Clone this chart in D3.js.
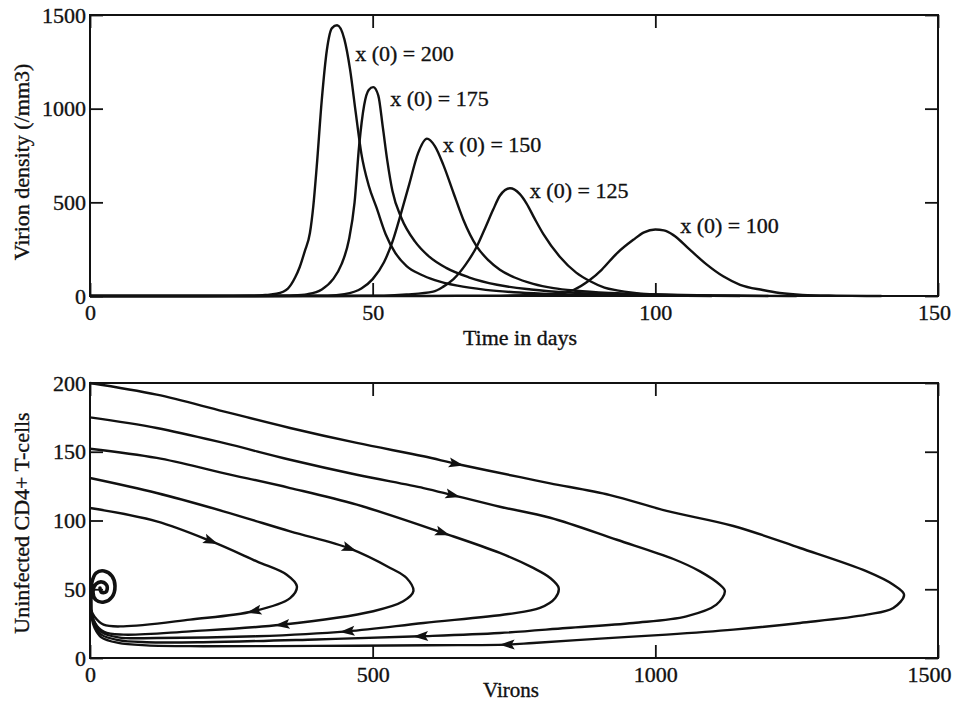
<!DOCTYPE html>
<html>
<head>
<meta charset="utf-8">
<script src="https://cdn.jsdelivr.net/npm/d3@7"></script>
<style>
  body { margin: 0; background: #fff; }
  text { font-family: "Liberation Serif", "Times New Roman", serif; fill: #111; stroke: #111; stroke-width: 0.35px; }
</style>
</head>
<body>
<svg id="chart"></svg>
<script>
// virion density curves, [day, virions/mm3], one per starting T-cell count
var curve200 = [[0,0],[20,0],[28,1],[31,5],[33,12],[35,40],[36.3,100],[37.1,155],[38,240],[38.9,336],[39.5,480],[40.1,689],[41,1047],[41.9,1313],[42.8,1430],[43.7,1445],[45,1370],[46,1210],[47,980],[48,760],[49.3,590],[50.7,470],[52.3,330],[54,230],[56,160],[58.5,115],[61,85],[65,55],[70,33],[75,20],[80,12],[90,5],[100,2],[110,0]];
var curve175 = [[0,0],[25,0],[33,1],[36,3],[38.5,10],[41,35],[43,90],[44.5,170],[45.8,300],[46.8,500],[47.6,800],[48.5,1020],[49.3,1100],[50.1,1115],[51,1070],[51.8,900],[52.6,720],[53.5,560],[55.1,415],[57.5,290],[60,210],[63,150],[67,100],[72,60],[78,35],[85,18],[95,8],[105,3],[115,0]];
var curve150 = [[0,0],[30,0],[38,1],[42,2],[45,10],[48,40],[50,90],[52,180],[53.5,290],[55,440],[56.5,600],[58,760],[59.6,840],[61,800],[62.5,700],[64.3,550],[66,410],[68.4,265],[70.5,190],[72.5,140],[75,100],[78.4,65],[82,42],[86,28],[92,16],[100,8],[110,3],[120,0]];
var curve125 = [[0,0],[40,0],[48,1],[52,2],[56,8],[60.7,23],[62.5,50],[64.3,90],[66.5,170],[68.4,263],[70,370],[71.3,460],[72.5,535],[74.3,575],[76,545],[77.2,495],[78.7,410],[80.2,330],[83.1,210],[86,125],[88.4,80],[91,45],[93.2,30],[99,10],[110,2],[125,0]];
var curve100 = [[0,0],[55,0],[65,1],[72,2],[78,5],[83,12],[85.5,32],[88.4,85],[90.5,140],[93.2,228],[96.1,300],[98,340],[100,355],[101.5,350],[103.2,325],[106,250],[109,170],[112,105],[115,60],[119,32],[122,16],[126,6],[132,2],[140,0]];
var curveNames = ["x (0) = 200","x (0) = 175","x (0) = 150","x (0) = 125","x (0) = 100"];
var labelPos = [[46.9,1255],[53.1,1014],[62.4,769],[77.8,523],[104.4,336]];

// phase plane trajectories, [virions, uninfected T-cells]
var traj200 = [[0,200],[118,191.5],[236,179.4],[354,167.3],[472,156.4],[590,146.7],[649,141.1],[761,131.5],[814,127],[920,118.5],[1020,107],[1138,96],[1256,80],[1374,63],[1421,53.3],[1440,46],[1421,36.4],[1374,31.5],[1256,25.5],[1138,20.6],[1020,17],[902,14.1],[784,10.9],[737,9.7],[600,9.3],[400,8.8],[200,8.6],[100,9.2],[50,11],[20,15],[8,22],[3,29],[1.8,34.9]];
var traj175 = [[0,175],[118,167.3],[236,156.4],[354,144.2],[472,133.3],[590,123.6],[643,118.3],[725,110],[814,102],[932,86],[1032,72],[1079,63],[1114,53.3],[1123,48.5],[1108,38.8],[1055,30.3],[961,25.5],[843,21.8],[725,18.2],[584,15.8],[400,13.5],[200,11.5],[100,11.5],[50,13],[20,17],[8,24],[3,31],[1.8,34.9]];
var traj150 = [[0,152.2],[118,145.5],[236,134.5],[354,123.6],[472,111.5],[625,90.9],[725,76.4],[784,65.5],[814,58.2],[829,50.9],[823,43.6],[796,36.4],[740,32],[590,25.5],[454,19.4],[295,15.8],[118,14.5],[50,15],[20,19],[6,28],[1.8,34.9]];
var traj125 = [[0,130.9],[118,120],[236,106.7],[354,92.1],[460,79.5],[531,65.5],[560,58.2],[572,48.5],[554,41.2],[501,34],[339,24.2],[177,19.4],[59,17],[25,19],[8,26],[1.8,34.9]];
var traj100 = [[0,109.1],[118,99.4],[215,84.8],[295,70.3],[348,60.6],[366,52.1],[354,43.6],[289,34],[177,27.9],[59,23],[24,24.2],[8,30],[1.8,34.9]];
var spiral = [[1.8,34.9],[1.8,45.8],[3.5,55.3],[10.6,61.8],[24.8,63.3],[38.9,59.6],[44.2,52.4],[38.9,44.4],[24.8,40.7],[10.6,42.2],[5.3,48],[10.6,53.8],[21.2,55.3],[30.1,52.4],[28.3,48],[19.5,48],[17.7,50.9]];
// arrow heads: [trajectory index, virions, T-cells]
var arrows = [[0,649,141.1],[1,643,118.3],[2,625,90.9],[3,460,79.5],[4,215,84.8],
              [0,737,9.7],[1,584,15.8],[2,454,19.4],[3,339,24.2],[4,289,34]];

var timeTicks = [0,50,100,150];
var virionTicks = [0,500,1000,1500];
var cellTicks = [0,50,100,150,200];

var width = 954, height = 702;
var svg = d3.select('#chart').attr('width', width).attr('height', height);

function frame(g, x, y, xt, yt, lastShift) {
    var tick = 13;
    var fmt = d3.format('d');
    g.append('g').attr('transform', 'translate(0,' + y.range()[0] + ')')
        .call(d3.axisBottom(x).tickValues(xt).tickFormat(fmt).tickSizeInner(-tick).tickSizeOuter(0).tickPadding(8))
        .call(function (a) {
            a.select('.domain').remove();
            a.selectAll('.tick text').filter(function (d, i) { return i === xt.length - 1; })
                .attr('dx', lastShift);
        });
    g.append('g').attr('transform', 'translate(0,' + y.range()[1] + ')')
        .call(d3.axisTop(x).tickValues(xt).tickSizeInner(-tick).tickSizeOuter(0).tickFormat(''))
        .call(function (a) { a.select('.domain').remove(); });
    g.append('g').attr('transform', 'translate(' + x.range()[0] + ',0)')
        .call(d3.axisLeft(y).tickValues(yt).tickFormat(fmt).tickSizeInner(-tick).tickSizeOuter(0).tickPadding(4))
        .call(function (a) { a.select('.domain').remove(); });
    g.append('g').attr('transform', 'translate(' + x.range()[1] + ',0)')
        .call(d3.axisRight(y).tickValues(yt).tickSizeInner(-tick).tickSizeOuter(0).tickFormat(''))
        .call(function (a) { a.select('.domain').remove(); });
    g.selectAll('.tick line').attr('stroke', '#111').attr('stroke-width', 1.8);
    g.selectAll('.tick text').attr('font-size', 22).attr('fill', '#111')
        .style('font-family', '"Liberation Serif", serif');
    g.append('rect')
        .attr('x', x.range()[0]).attr('y', y.range()[1])
        .attr('width', x.range()[1] - x.range()[0]).attr('height', y.range()[0] - y.range()[1])
        .attr('fill', 'none').attr('stroke', '#111').attr('stroke-width', 2);
}

// ---- top panel ----
var xT = d3.scaleLinear().domain([0, 150]).range([90, 938]);
var yT = d3.scaleLinear().domain([0, 1500]).range([296, 15]);
var topG = svg.append('g');
var lineT = d3.line().x(function (d) { return xT(d[0]); }).y(function (d) { return yT(d[1]); })
    .curve(d3.curveMonotoneX);
[curve200, curve175, curve150, curve125, curve100].forEach(function (c) {
    topG.append('path').attr('d', lineT(c)).attr('fill', 'none')
        .attr('stroke', '#111').attr('stroke-width', 2.4).attr('stroke-linejoin', 'round');
});
frame(topG, xT, yT, timeTicks, virionTicks, -4);
curveNames.forEach(function (n, i) {
    topG.append('text').attr('x', xT(labelPos[i][0])).attr('y', yT(labelPos[i][1]))
        .attr('font-size', 22).text(n);
});
topG.append('text').attr('x', 520).attr('y', 345).attr('text-anchor', 'middle')
    .attr('font-size', 22).text('Time in days');
topG.append('text').attr('transform', 'translate(29,162) rotate(-90)').attr('text-anchor', 'middle')
    .attr('font-size', 22).text('Virion density (/mm3)');

// ---- bottom panel ----
var xB = d3.scaleLinear().domain([0, 1500]).range([90, 938]);
var yB = d3.scaleLinear().domain([0, 200]).range([658, 383]);
var botG = svg.append('g');
var lineB = d3.line().x(function (d) { return xB(d[0]); }).y(function (d) { return yB(d[1]); })
    .curve(d3.curveCatmullRom.alpha(0.5));
var trajs = [traj200, traj175, traj150, traj125, traj100];
trajs.forEach(function (c) {
    botG.append('path').attr('d', lineB(c)).attr('fill', 'none')
        .attr('stroke', '#111').attr('stroke-width', 2.4).attr('stroke-linejoin', 'round');
});
botG.append('path').attr('d', lineB(spiral)).attr('fill', 'none')
    .attr('stroke', '#111').attr('stroke-width', 3.6).attr('stroke-linecap', 'round');

arrows.forEach(function (a) {
    var c = trajs[a[0]];
    var px = xB(a[1]), py = yB(a[2]);
    var best = 0, bd = Infinity;
    c.forEach(function (p, i) {
        var dd = Math.pow(xB(p[0]) - px, 2) + Math.pow(yB(p[1]) - py, 2);
        if (dd < bd) { bd = dd; best = i; }
    });
    var p0 = c[Math.max(best - 1, 0)], p1 = c[Math.min(best + 1, c.length - 1)];
    var ang = Math.atan2(yB(p1[1]) - yB(p0[1]), xB(p1[0]) - xB(p0[0])) * 180 / Math.PI;
    botG.append('path').attr('d', 'M7,0L-8,-5L-5,0L-8,5Z')
        .attr('transform', 'translate(' + px + ',' + py + ') rotate(' + ang + ')')
        .attr('fill', '#111');
});
frame(botG, xB, yB, virionTicks, cellTicks, -9);
botG.append('text').attr('x', 511).attr('y', 697).attr('text-anchor', 'middle')
    .attr('font-size', 21).text('Virons');
botG.append('text').attr('transform', 'translate(29,523) rotate(-90)').attr('text-anchor', 'middle')
    .attr('font-size', 22).text('Uninfected CD4+ T-cells');
</script>
</body>
</html>
